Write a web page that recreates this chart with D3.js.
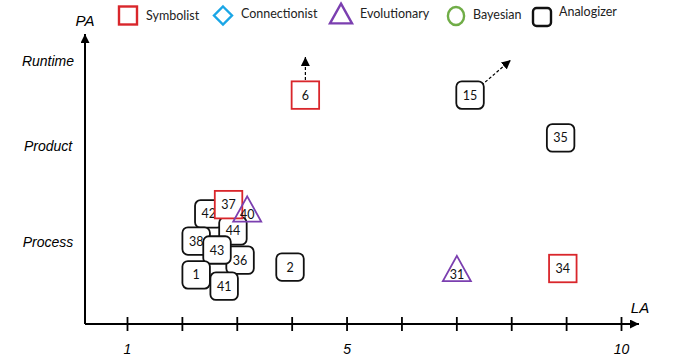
<!DOCTYPE html>
<html>
<head>
<meta charset="utf-8">
<script src="https://cdn.jsdelivr.net/npm/d3@7"></script>
<style>
  body { margin: 0; background: #fff; }
  svg { display: block; }
</style>
</head>
<body>
<svg id="chart" width="676" height="357"></svg>
<script>
// tribes shown in the legend
var tribeNames = ['Symbolist', 'Connectionist', 'Evolutionary', 'Bayesian', 'Analogizer'];
var tribeColors = ['#d9262b', '#1aa6e6', '#7b3fb0', '#70ad47', '#111111'];
var tribeShapes = ['square', 'diamond', 'triangle', 'circle', 'rounded'];

// the papers (drawing order matters: later ones sit on top)
var paperIds    = [42, 38, 44, 36, 43, 1, 41, 2, 6, 15, 35, 34, 31, 37, 40];
var paperTribes = ['Analogizer', 'Analogizer', 'Analogizer', 'Analogizer', 'Analogizer',
                   'Analogizer', 'Analogizer', 'Analogizer', 'Symbolist', 'Analogizer',
                   'Analogizer', 'Symbolist', 'Evolutionary', 'Symbolist', 'Evolutionary'];
var paperLA = [2.49, 2.26, 2.93, 3.06, 2.64, 2.26, 2.77, 3.97, 4.25, 7.25, 8.90, 8.94, 7.01, 2.85, 3.19];
var paperPA = [3.81, 2.87, 3.22, 2.21, 2.56, 1.70, 1.31, 1.97, 7.92, 7.92, 6.44, 1.92, 1.92, 4.13, 3.98];

// dashed trend arrows (paper id -> where it points)
var arrowIds = [6, 15];
var arrowLA  = [4.25, 7.99];
var arrowPA  = [9.24, 9.13];

// axis ticks and PA levels
var laTicks = [1, 2, 3, 4, 5, 6, 7, 8, 9, 10];
var laTickLabels = ['1', '', '', '', '5', '', '', '', '', '10'];
var paLevels = ['Process', 'Product', 'Runtime'];
var paLevelValues = [2.84, 6.16, 9.1];

var svg = d3.select('#chart');
var x0 = 85, y0 = 324;

var x = d3.scaleLinear().domain([1, 10]).range([127, 621]);
var y = d3.scaleLinear().domain([0, 10]).range([y0, 35]);

// arrow heads
var defs = svg.append('defs');
defs.append('marker')
  .attr('id', 'head')
  .attr('viewBox', '0 0 10 10')
  .attr('refX', 10).attr('refY', 5)
  .attr('markerWidth', 9).attr('markerHeight', 9)
  .attr('markerUnits', 'userSpaceOnUse')
  .attr('orient', 'auto')
  .append('path').attr('d', 'M0,0 L10,5 L0,10 Z').attr('fill', '#000');

// x axis
var xAxis = d3.axisBottom(x)
  .tickValues(laTicks)
  .tickSize(7)
  .tickPadding(13)
  .tickFormat(function(d, i) { return laTickLabels[i]; });

var gx = svg.append('g')
  .attr('transform', 'translate(0,' + y0 + ')')
  .call(xAxis);
gx.select('.domain').remove();
gx.selectAll('.tick line')
  .attr('y1', -7).attr('y2', 7)
  .attr('stroke', '#000').attr('stroke-width', 1.8);
gx.selectAll('.tick text')
  .attr('fill', '#000')
  .style('font', 'italic 14px "Liberation Sans", Arial, sans-serif');

svg.append('line')
  .attr('x1', x0).attr('y1', y0).attr('x2', 639).attr('y2', y0)
  .attr('stroke', '#000').attr('stroke-width', 2)
  .attr('marker-end', 'url(#head)');

// y axis
var yAxis = d3.axisLeft(y)
  .tickValues(paLevelValues)
  .tickSize(0)
  .tickFormat(function(d, i) { return paLevels[i]; });
var gy = svg.append('g')
  .attr('transform', 'translate(' + x0 + ',0)')
  .call(yAxis);
gy.select('.domain').remove();
gy.selectAll('.tick text')
  .attr('x', -37)
  .attr('text-anchor', 'middle')
  .attr('fill', '#000')
  .style('font', 'italic 14px "Liberation Sans", Arial, sans-serif');

svg.append('line')
  .attr('x1', x0).attr('y1', y0).attr('x2', x0).attr('y2', 34)
  .attr('stroke', '#000').attr('stroke-width', 2)
  .attr('marker-end', 'url(#head)');

svg.append('text').text('PA')
  .attr('x', x0).attr('y', 26).attr('text-anchor', 'middle')
  .style('font', 'italic 15px "Liberation Sans", Arial, sans-serif');
svg.append('text').text('LA')
  .attr('x', 640).attr('y', 313).attr('text-anchor', 'middle')
  .style('font', 'italic 15px "Liberation Sans", Arial, sans-serif');

// shape drawing helper, centred on 0,0
function drawShape(g, shape, color, s, sw) {
  var h = s / 2;
  if (shape === 'square') {
    g.append('rect').attr('x', -h).attr('y', -h).attr('width', s).attr('height', s)
      .attr('fill', '#fff').attr('stroke', color).attr('stroke-width', sw);
  } else if (shape === 'rounded') {
    g.append('rect').attr('x', -h).attr('y', -h).attr('width', s).attr('height', s)
      .attr('rx', s * 0.2).attr('ry', s * 0.2)
      .attr('fill', '#fff').attr('stroke', color).attr('stroke-width', sw);
  } else if (shape === 'diamond') {
    g.append('path').attr('d', 'M0,' + (-h) + ' L' + h + ',0 L0,' + h + ' L' + (-h) + ',0 Z')
      .attr('fill', 'none').attr('stroke', color).attr('stroke-width', sw);
  } else if (shape === 'triangle') {
    g.append('path').attr('d', 'M0,' + (-h * 0.9) + ' L' + h + ',' + (h * 0.9) + ' L' + (-h) + ',' + (h * 0.9) + ' Z')
      .attr('fill', 'none').attr('stroke', color).attr('stroke-width', sw);
  } else if (shape === 'circle') {
    g.append('ellipse').attr('rx', h * 0.9).attr('ry', h)
      .attr('fill', 'none').attr('stroke', color).attr('stroke-width', sw);
  }
}

// legend
var legendX = [128, 223, 341, 456, 542];
var legendY = [15.5, 15.5, 13.5, 16, 17];
var legendTextY = [19.5, 17.5, 17.5, 18.5, 16];
var legendGap = [18, 18, 19, 17, 17];
tribeNames.forEach(function(name, i) {
  var g = svg.append('g').attr('transform', 'translate(' + legendX[i] + ',' + legendY[i] + ')');
  drawShape(g, tribeShapes[i], tribeColors[i], tribeShapes[i] === 'triangle' ? 22 : 18, 2.4);
  svg.append('text').text(name)
    .attr('x', legendX[i] + legendGap[i])
    .attr('y', legendTextY[i])
    .attr('fill', '#222')
    .style('font', '12.5px Lato, "Open Sans", sans-serif');
});

// trend arrows (behind the boxes)
arrowIds.forEach(function(id, i) {
  var k = paperIds.indexOf(id);
  var sx = x(paperLA[k]), sy = y(paperPA[k]);
  var tx = x(arrowLA[i]), ty = y(arrowPA[i]);
  svg.append('line')
    .attr('x1', sx).attr('y1', sy).attr('x2', tx).attr('y2', ty)
    .attr('stroke', '#000').attr('stroke-width', 1.2)
    .attr('stroke-dasharray', '3,2')
    .attr('marker-end', 'url(#head)');
});

// papers
var tribeIndex = function(t) { return tribeNames.indexOf(t); };
var boxSize = 27.5;
paperIds.forEach(function(id, i) {
  var ti = tribeIndex(paperTribes[i]);
  var g = svg.append('g')
    .attr('transform', 'translate(' + x(paperLA[i]) + ',' + y(paperPA[i]) + ')');
  var isTri = tribeShapes[ti] === 'triangle';
  drawShape(g, tribeShapes[ti], tribeColors[ti], isTri ? 28 : boxSize, 1.8);
  g.append('text').text(id)
    .attr('text-anchor', 'middle')
    .attr('y', isTri ? 10 : 4.5)
    .attr('fill', '#111')
    .style('font', '12.5px Lato, "Open Sans", sans-serif');
});
</script>
</body>
</html>
